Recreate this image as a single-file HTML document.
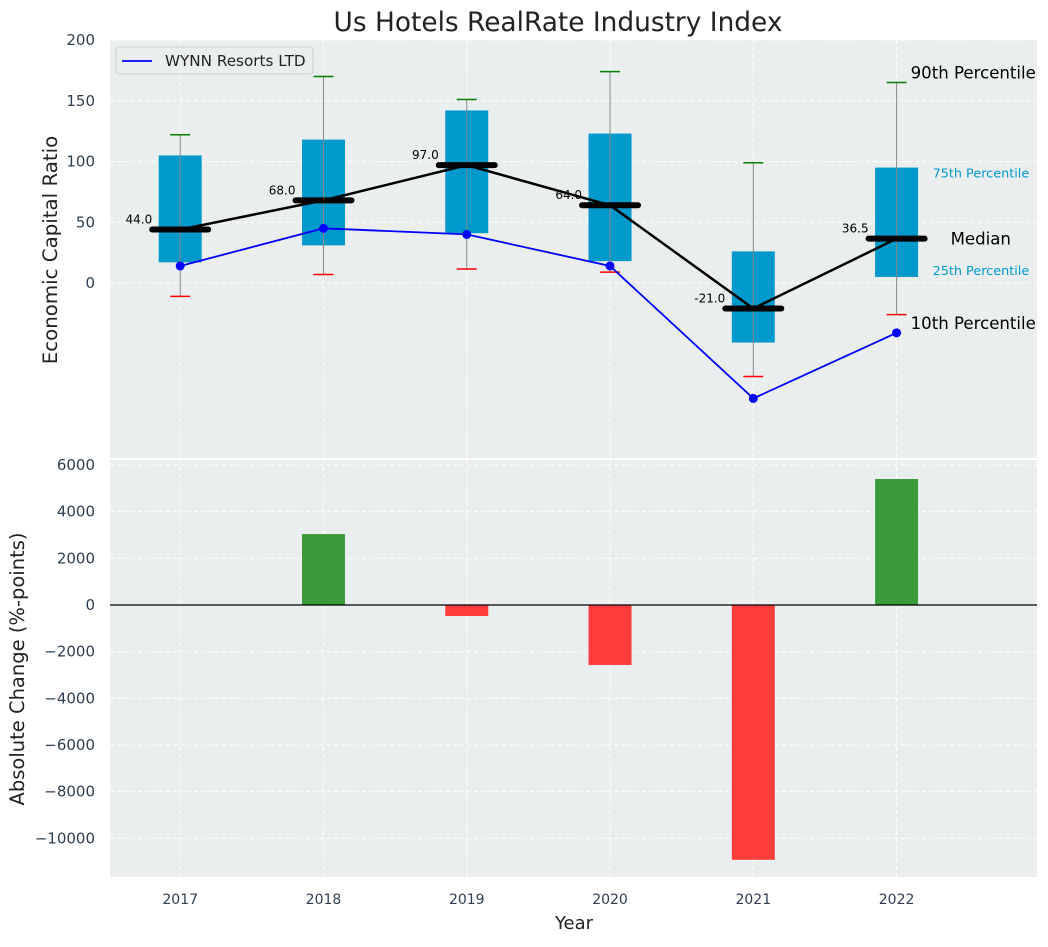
<!DOCTYPE html>
<html><head><meta charset="utf-8"><style>
body{margin:0;background:#fff;font-family:"Liberation Sans","DejaVu Sans",sans-serif}
svg text{font-family:"DejaVu Sans","Liberation Sans",sans-serif}
</style></head><body>
<svg id="c" width="1048" height="942" viewBox="0 0 1048 942"></svg>
<script>
const years=[2017,2018,2019,2020,2021,2022];
const p10=[-11,7,11.5,9,-77,-26];
const q25=[17,31,41,18,-49,5];
const medians=[44,68,97,64,-21,36.5];
const q75=[105,118,142,123,26,95];
const p90=[122,170,151,174,99,165];
const wynn=[14,45,40,14,-95,-41];
const changes=[0,3040,-470,-2570,-10920,5400];
const topTicks=[200,150,100,50,0];
const botTicks=[6000,4000,2000,0,-2000,-4000,-6000,-8000,-10000];

const NS="http://www.w3.org/2000/svg";
const svg=document.getElementById('c');
function el(t,a,txt,par){const e=document.createElementNS(NS,t);for(const k in a)e.setAttribute(k,a[k]);if(txt!=null)e.textContent=txt;(par||svg).appendChild(e);return e;}
const L=110,R=1037;
const x=v=>L+(v-2016.51)*(R-L)/(2022.98-2016.51);
const yT=v=>283-v*1.215;
const yB=v=>605-v*(140/6000);
const T0=40,T1=458,B0=460,B1=877;

let e=el('rect',{x:L,y:T0,width:R-L,height:T1-T0,fill:'#eaeeef'});

e=el('rect',{x:L,y:B0,width:R-L,height:B1-B0,fill:'#eaeeef'});


topTicks.forEach(t=>{el('line',{x1:L,x2:R,y1:yT(t),y2:yT(t),stroke:'#fff','stroke-dasharray':'4,3','stroke-width':1});
 e=el('text',{x:L-15,y:yT(t)+5,'text-anchor':'end','font-size':15,fill:'#2e3e50'},t);
 });
botTicks.forEach(t=>{el('line',{x1:L,x2:R,y1:yB(t),y2:yB(t),stroke:'#fff','stroke-dasharray':'4,3','stroke-width':1});
 e=el('text',{x:L-15,y:yB(t)+5,'text-anchor':'end','font-size':15,fill:'#2e3e50'},String(t).replace('-','\u2212'));
 });
years.forEach(yr=>{const X=x(yr);
 el('line',{x1:X,x2:X,y1:T0,y2:T1,stroke:'#fff','stroke-dasharray':'4,3'});
 el('line',{x1:X,x2:X,y1:B0,y2:B1,stroke:'#fff','stroke-dasharray':'4,3'});
 e=el('text',{x:X,y:904,'text-anchor':'middle','font-size':14,fill:'#2e3e50'},yr);
 });

const bw=x(2017.3)-x(2017);
years.forEach((yr,i)=>{const X=x(yr);
 e=el('rect',{x:X-bw/2,y:yT(q75[i]),width:bw,height:yT(q25[i])-yT(q75[i]),fill:'#0099cc'});
 
 el('line',{x1:X,x2:X,y1:yT(p90[i]),y2:yT(p10[i]),stroke:'#888','stroke-width':1});
 el('line',{x1:X-10,x2:X+10,y1:yT(p90[i]),y2:yT(p90[i]),stroke:'green','stroke-width':1.5});
 el('line',{x1:X-10,x2:X+10,y1:yT(p10[i]),y2:yT(p10[i]),stroke:'red','stroke-width':1.5});
});
el('polyline',{points:years.map((yr,i)=>x(yr)+','+yT(medians[i])).join(' '),fill:'none',stroke:'#000','stroke-width':2.5});
years.forEach((yr,i)=>{const X=x(yr);
 e=el('line',{x1:X-28,x2:X+28,y1:yT(medians[i]),y2:yT(medians[i]),stroke:'#000','stroke-width':6,'stroke-linecap':'round'});
 
 e=el('text',{x:X-28,y:yT(medians[i])-6,'text-anchor':'end','font-size':12,fill:'#000'},medians[i].toFixed(1));
 
});
el('polyline',{points:years.map((yr,i)=>x(yr)+','+yT(wynn[i])).join(' '),fill:'none',stroke:'blue','stroke-width':1.8});
years.forEach((yr,i)=>{e=el('circle',{cx:x(yr),cy:yT(wynn[i]),r:4.5,fill:'blue'});
 });

const ax=x(2022);
[[p90[5],'90th Percentile',16.6,'#000',14,-4],[q75[5],'75th Percentile',12.8,'#0099cc',36,10],[medians[5],'Median',16.6,'#000',54,6],[q25[5],'25th Percentile',12.8,'#0099cc',36,-2],[wynn[5],'10th Percentile',16.6,'#000',14,-4]].forEach(a=>{
 e=el('text',{x:ax+a[4],y:yT(a[0])+a[5],'font-size':a[2],fill:a[3]},a[1]);
 });

e=el('g',{});
el('rect',{x:116,y:47,width:197,height:27,rx:3,fill:'#eaeeef',stroke:'#ccc'},null,e);
el('line',{x1:122,x2:152,y1:61,y2:61,stroke:'blue','stroke-width':1.8},null,e);
el('text',{x:165,y:66,'font-size':15.2,fill:'#222'},'WYNN Resorts LTD',e);

years.forEach((yr,i)=>{const v=changes[i];const X=x(yr);
 e=el('rect',{x:X-bw/2,y:Math.min(yB(v),yB(0)),width:bw,height:Math.abs(yB(v)-yB(0)),fill:v>=0?'#3a9a3a':'#ff3d3d'});
 });
el('line',{x1:L,x2:R,y1:yB(0),y2:yB(0),stroke:'#000','stroke-width':1.2});

e=el('text',{x:558,y:31,'text-anchor':'middle','font-size':26.4,fill:'#222'},'Us Hotels RealRate Industry Index');

e=el('text',{x:57,y:250,'text-anchor':'middle','font-size':19.8,fill:'#222',transform:'rotate(-90 57 250)'},'Economic Capital Ratio');

e=el('text',{x:24,y:669,'text-anchor':'middle','font-size':19.5,fill:'#222',transform:'rotate(-90 24 669)'},'Absolute Change (%-points)');

e=el('text',{x:574,y:929,'text-anchor':'middle','font-size':18,fill:'#222'},'Year');

</script>
</body></html>
